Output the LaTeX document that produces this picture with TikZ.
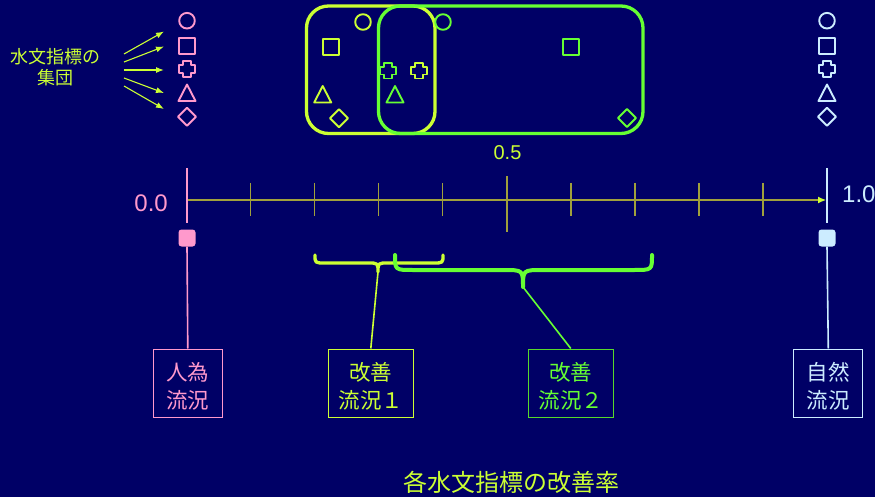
\documentclass[tikz,border=0pt]{standalone}
\usepackage{fontspec}
\setmainfont{Liberation Sans}
\newfontfamily\cjk{Noto Sans CJK JP}
\usetikzlibrary{arrows.meta}
\definecolor{navy}{RGB}{0,0,102}
\definecolor{ygreen}{RGB}{204,255,51}
\definecolor{lgreen}{RGB}{102,255,51}
\definecolor{pinkc}{RGB}{255,153,204}
\definecolor{lblue}{RGB}{204,236,255}
\definecolor{axisc}{RGB}{160,160,60}
\tikzset{
  circ/.pic={\draw (0,0) circle[radius=7.8pt];},
  sq/.pic={\draw (-8,-8) rectangle (8,8);},
  crs/.pic={\draw (-3.8,-7.8) -- (3.8,-7.8) -- (3.8,-3.8) -- (8.2,-3.8) -- (8.2,3.8) -- (3.8,3.8) -- (3.8,7.8) -- (-3.8,7.8) -- (-3.8,3.8) -- (-8.2,3.8) -- (-8.2,-3.8) -- (-3.8,-3.8) -- cycle;},
  tri/.pic={\draw (0,-8.5) -- (8.5,8) -- (-8.5,8) -- cycle;},
  dia/.pic={\draw (0,-9) -- (9,0) -- (0,9) -- (-9,0) -- cycle;},
  shp/.style={line width=1.9pt, line join=round},
  bigbox/.style={line width=3.3pt, rounded corners=22pt},
  marker/.style={rectangle, rounded corners=3pt, minimum size=17pt, inner sep=0pt},
  txtbox/.style={draw, line width=1pt, minimum height=68pt, inner sep=0pt},
  boxtext/.style={font=\cjk\fontsize{21.5}{28}\selectfont, align=center, inner sep=0pt},
  brace/.style={line cap=round, line join=round},
  arr/.style={ygreen, line width=1.1pt, -{Latex[length=8pt,width=6pt]}},
  conn/.style={line width=1.6pt},
  tick/.style={axisc, line width=1.3pt}
}
\begin{document}
\begin{tikzpicture}[x=1pt,y=-1pt]
\useasboundingbox (0,0) rectangle (875,497);
\fill[navy] (0,0) rectangle (875,497);

% left label and arrows
\node[ygreen, font=\cjk\fontsize{18}{21}\selectfont, align=center, inner sep=0pt] (grp) at (55,67) {水文指標の\\集団};
\coordinate (s1) at (124,54); \coordinate (e1) at (164,31.5);
\coordinate (s2) at (124,62); \coordinate (e2) at (164,46.5);
\coordinate (s3) at (124,70); \coordinate (e3) at (164,70);
\coordinate (s4) at (124,78); \coordinate (e4) at (164,93);
\coordinate (s5) at (124,86); \coordinate (e5) at (164,109);
\foreach \i in {1,...,5} {\draw[arr] (s\i) -- (e\i);}

% pink column
\pic[pinkc, shp] at (187,20.7) {circ};
\pic[pinkc, shp] at (187,45.7) {sq};
\pic[pinkc, shp] at (187,69) {crs};
\pic[pinkc, shp] at (187,93) {tri};
\pic[pinkc, shp] at (187,116.7) {dia};

% light blue column
\pic[lblue, shp] at (827,20.7) {circ};
\pic[lblue, shp] at (827,45.7) {sq};
\pic[lblue, shp] at (827,69) {crs};
\pic[lblue, shp] at (827,93) {tri};
\pic[lblue, shp] at (827,116.7) {dia};

% groups
\draw[ygreen, bigbox] (306.5,6) rectangle (435,133.5);
\draw[lgreen, bigbox] (378.5,6) rectangle (643,133.5);
\pic[ygreen, shp] at (363,22) {circ};
\pic[ygreen, shp] at (331,46.7) {sq};
\pic[ygreen, shp] at (419,70.7) {crs};
\pic[ygreen, shp] at (322.7,94.5) {tri};
\pic[ygreen, shp] at (339,118.3) {dia};
\pic[lgreen, shp] at (443,22) {circ};
\pic[lgreen, shp] at (571,46.7) {sq};
\pic[lgreen, shp] at (388,70.7) {crs};
\pic[lgreen, shp] at (395,94.5) {tri};
\pic[lgreen, shp] at (627,118) {dia};

\node[ygreen, font=\fontsize{20}{24}\selectfont, inner sep=0pt] (half) at (507.5,153) {0.5};

% axis
\coordinate (a0) at (187,200);
\coordinate (a1) at (826,200);
\draw[axisc, line width=1.1pt, -{Latex[length=8pt,width=7pt,color=ygreen]}] (a0) -- (a1);
\foreach \x in {250.7,314.7,378.7,442.7,571,635,699,763} {\draw[tick] (\x,183) -- (\x,216);}
\draw[tick] (507,176) -- (507,232);
\draw[pinkc, line width=1.5pt] (187,168) -- (187,223);
\draw[lblue, line width=1.5pt] (827,168) -- (827,223);
\node[pinkc, font=\fontsize{24}{28}\selectfont, anchor=east, inner sep=0pt] (l0) at (168,203) {0.0};
\node[lblue, font=\fontsize{24}{28}\selectfont, anchor=west, inner sep=0pt] (l1) at (842,194) {1.0};

% markers
\node[marker, fill=pinkc] (p0) at (187,238) {};
\node[marker, fill=lblue] (p1) at (827,238) {};

% braces
\draw[ygreen, brace, line width=3.3pt] (315,255) .. controls (315,263) .. (325,263) -- (368,263) .. controls (378,263) .. (378,272) .. controls (378,263) .. (388,263) -- (433,263) .. controls (443,263) .. (443,255);
\coordinate (ytip) at (378,272);
\draw[lgreen, brace, line width=4pt] (395,255) .. controls (395,270) .. (413,270) -- (503,270) .. controls (523,270) .. (523,287) .. controls (523,270) .. (543,270) -- (634,270) .. controls (652,270) .. (652,255);
\coordinate (gtip) at (523,287);

% boxes
\node[txtbox, pinkc, minimum width=69pt] (bA) at (187.8,383) {};
\node[txtbox, ygreen, minimum width=85pt] (bY) at (370.8,383) {};
\node[txtbox, lgreen!85!black, minimum width=85pt] (bG) at (570.8,383) {};
\node[txtbox, lblue, minimum width=69pt] (bB) at (828.3,383) {};
\node[boxtext, pinkc] (tA) at ([yshift=-3pt]bA.center) {人為\\流況};
\node[boxtext, ygreen] (tY) at ([yshift=-3pt]bY.center) {改善\\流況１};
\node[boxtext, lgreen] (tG) at ([yshift=-3pt]bG.center) {改善\\流況２};
\node[boxtext, lblue] (tB) at ([yshift=-3pt]bB.center) {自然\\流況};

% connectors
\draw[pinkc, conn] (p0.south) -- (bA.north);
\draw[lblue, conn] (p1.south) -- (bB.north);
\draw[ygreen, conn] (ytip) -- (bY.north);
\draw[lgreen, conn] (gtip) -- (bG.north);

% title
\node[ygreen, font=\cjk\fontsize{24}{28}\selectfont, inner sep=0pt] (title) at (511,482) {各水文指標の改善率};
\end{tikzpicture}
\end{document}
